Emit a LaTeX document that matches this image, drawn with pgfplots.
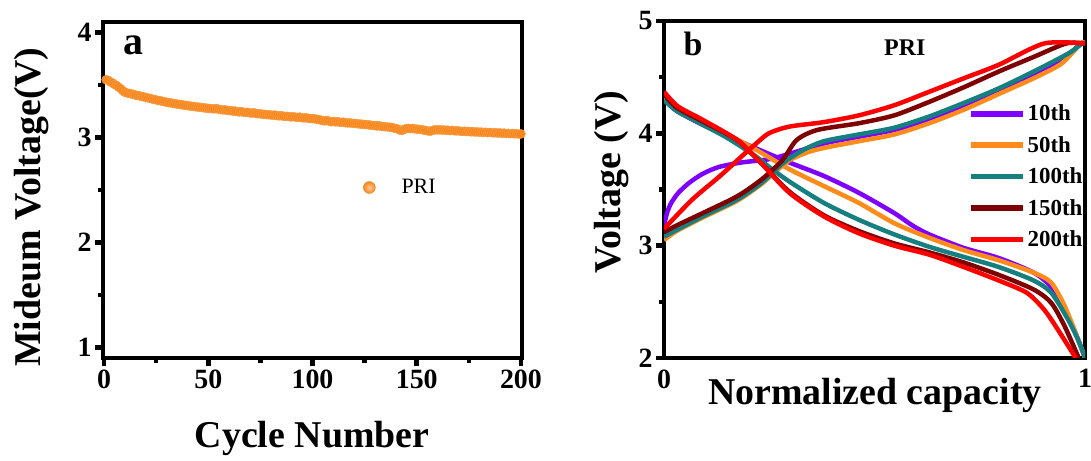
\documentclass[border=0pt]{standalone}
\usepackage{fontspec}
\setmainfont{Liberation Serif}
\usepackage{pgfplots}
\pgfplotsset{compat=1.18}

\definecolor{priorange}{HTML}{F7871C}
\definecolor{c10}{HTML}{8000FF}
\definecolor{c50}{HTML}{FF8C1A}
\definecolor{c100}{HTML}{168080}
\definecolor{c150}{HTML}{7F0000}
\definecolor{c200}{HTML}{FF0000}

\newcommand{\tickfont}{\fontsize{28}{30}\selectfont\bfseries}

\pgfplotsset{
  panel/.style={
    scale only axis,
    axis line style={line width=4.5bp},
    tick align=outside, tick pos=left,
    major tick length=8bp, minor tick length=5bp,
    tick style={line width=4.5bp, black},
    xticklabel={\tickfont\pgfmathprintnumber[assume math mode=true]{\tick}},
    yticklabel={\tickfont\pgfmathprintnumber[assume math mode=true]{\tick}},
    label style={font=\fontsize{38}{42}\selectfont\bfseries},
  },
  cyc/.style={line width=4.5bp, smooth, tension=0.45},
}

\begin{document}
\begin{tikzpicture}
\path[use as bounding box] (0bp,0bp) rectangle (1091bp,461bp);

% ---------- (a) mid voltage vs cycle ----------
\begin{axis}[panel,
  at={(103bp,103bp)}, anchor=south west,
  width=419bp, height=336bp,
  xmin=-0.5, xmax=200.5, ymin=0.9, ymax=4.1,
  xtick={0,50,...,200}, ytick={1,2,3,4},
  minor x tick num=1, minor y tick num=1,
  xlabel={Cycle Number}, ylabel={Mideum Voltage(V)},
  xlabel style={at={(axis description cs:0.499,-0.265)}, anchor=base},
  ylabel style={at={(axis description cs:-0.150,0.449)}, anchor=base},
  legend style={draw=none, fill=none, at={(axis cs:124.2,2.524)}, anchor=west,
    font=\fontsize{22}{24}\selectfont, inner sep=0pt},
  legend image code/.code={\shade[inner color=priorange!45!white, outer color=priorange] (0bp,0bp) circle (6bp);},
]
\addplot[only marks, mark=*, mark size=4.5bp, color=priorange, mark options={fill=priorange, draw=priorange!80!white}] coordinates {
(1,3.550) (2,3.545) (3,3.530) (4,3.520) (5,3.505) (6,3.495) (7,3.480) (8,3.465) (9,3.445) (10,3.430)
(11,3.425) (12,3.420) (13,3.415) (14,3.412) (15,3.405) (16,3.400) (17,3.398) (18,3.390) (19,3.388) (20,3.380)
(21,3.378) (22,3.372) (23,3.368) (24,3.362) (25,3.358) (26,3.352) (27,3.350) (28,3.345) (29,3.340) (30,3.336)
(31,3.332) (32,3.330) (33,3.325) (34,3.322) (35,3.318) (36,3.316) (37,3.312) (38,3.310) (39,3.306) (40,3.304)
(41,3.300) (42,3.298) (43,3.296) (44,3.292) (45,3.290) (46,3.288) (47,3.285) (48,3.282) (49,3.280) (50,3.278)
(51,3.276) (52,3.274) (53,3.272) (54,3.276) (55,3.268) (56,3.266) (57,3.262) (58,3.264) (59,3.258) (60,3.255)
(61,3.256) (62,3.250) (63,3.252) (64,3.246) (65,3.244) (66,3.246) (67,3.240) (68,3.238) (69,3.240) (70,3.234)
(71,3.232) (72,3.236) (73,3.228) (74,3.226) (75,3.225) (76,3.222) (77,3.220) (78,3.218) (79,3.216) (80,3.215)
(81,3.212) (82,3.214) (83,3.208) (84,3.206) (85,3.208) (86,3.203) (87,3.200) (88,3.202) (89,3.198) (90,3.196)
(91,3.198) (92,3.193) (93,3.192) (94,3.194) (95,3.188) (96,3.186) (97,3.188) (98,3.183) (99,3.180) (100,3.180)
(101,3.178) (102,3.174) (103,3.170) (104,3.166) (105,3.160) (106,3.158) (107,3.162) (108,3.155) (109,3.150) (110,3.152)
(111,3.148) (112,3.150) (113,3.146) (114,3.144) (115,3.146) (116,3.140) (117,3.138) (118,3.140) (119,3.135) (120,3.134)
(121,3.132) (122,3.130) (123,3.128) (124,3.126) (125,3.124) (126,3.122) (127,3.120) (128,3.118) (129,3.115) (130,3.112)
(131,3.110) (132,3.112) (133,3.106) (134,3.104) (135,3.102) (136,3.100) (137,3.098) (138,3.096) (139,3.090) (140,3.086)
(141,3.080) (142,3.070) (143,3.068) (144,3.078) (145,3.085) (146,3.088) (147,3.084) (148,3.086) (149,3.082) (150,3.080)
(151,3.078) (152,3.076) (153,3.072) (154,3.068) (155,3.064) (156,3.060) (157,3.062) (158,3.070) (159,3.074) (160,3.072)
(161,3.074) (162,3.070) (163,3.072) (164,3.068) (165,3.070) (166,3.066) (167,3.068) (168,3.064) (169,3.062) (170,3.064)
(171,3.060) (172,3.058) (173,3.060) (174,3.056) (175,3.058) (176,3.054) (177,3.056) (178,3.052) (179,3.054) (180,3.050)
(181,3.052) (182,3.048) (183,3.050) (184,3.046) (185,3.048) (186,3.046) (187,3.044) (188,3.046) (189,3.042) (190,3.044)
(191,3.040) (192,3.042) (193,3.038) (194,3.040) (195,3.036) (196,3.038) (197,3.034) (198,3.036) (199,3.032) (200,3.034)
};
\addlegendentry{\hspace{24bp}PRI}
\node[anchor=base west, font=\fontsize{40}{42}\selectfont\bfseries] at (axis description cs:0.0406,0.902) {a};
\end{axis}

% ---------- (b) voltage profiles ----------
\begin{axis}[panel,
  at={(664bp,103bp)}, anchor=south west,
  width=421bp, height=337bp,
  xmin=0, xmax=1, ymin=2, ymax=5,
  xtick={0,1}, ytick={2,3,4,5},
  xtick align=inside,
  xticklabel style={yshift=-8bp},
  minor y tick num=1,
  xlabel={Normalized capacity}, ylabel={Voltage (V)},
  xlabel style={at={(axis description cs:0.501,-0.139)}, anchor=base},
  ylabel style={at={(axis description cs:-0.1045,0.522)}, anchor=base},
  legend style={draw=none, fill=none, at={(rel axis cs:0.722,0.757)}, anchor=north west,
    font=\fontsize{23}{25}\selectfont\bfseries, inner sep=0pt, row sep=10bp,
    /tikz/every even column/.append style={column sep=0pt}},
  legend image code/.code={\draw[#1, line width=5.5bp] (0bp,0bp) -- (52bp,0bp);},
  legend cell align=left,
]
% 10th
\addplot[cyc, c10] coordinates {(0,3.18) (0.008,3.30) (0.017,3.38) (0.034,3.47) (0.06,3.56) (0.092,3.64) (0.13,3.70) (0.183,3.74) (0.25,3.77) (0.30,3.82) (0.38,3.91) (0.463,3.97) (0.547,4.03) (0.63,4.12) (0.712,4.24) (0.795,4.38) (0.878,4.52) (0.95,4.66) (0.99,4.8) (1.0,4.8)};
\addlegendentry{10th}
\addplot[cyc, c10, forget plot] coordinates {(0,4.30) (0.03,4.20) (0.09,4.08) (0.15,3.98) (0.216,3.87) (0.298,3.74) (0.38,3.62) (0.463,3.47) (0.547,3.29) (0.59,3.18) (0.63,3.10) (0.712,2.98) (0.795,2.89) (0.878,2.76) (0.92,2.63) (0.96,2.37) (0.985,2.15) (1.0,2.0)};
% 50th
\addplot[cyc, c50] coordinates {(0,3.05) (0.03,3.13) (0.092,3.25) (0.174,3.40) (0.232,3.55) (0.265,3.66) (0.298,3.76) (0.34,3.83) (0.38,3.87) (0.463,3.93) (0.547,3.99) (0.63,4.09) (0.712,4.21) (0.795,4.35) (0.878,4.49) (0.944,4.62) (0.99,4.8) (1.0,4.8)};
\addlegendentry{50th}
\addplot[cyc, c50, forget plot] coordinates {(0,4.32) (0.03,4.21) (0.09,4.09) (0.15,3.99) (0.216,3.86) (0.298,3.68) (0.38,3.53) (0.463,3.38) (0.547,3.20) (0.63,3.07) (0.712,2.96) (0.795,2.87) (0.878,2.76) (0.92,2.67) (0.952,2.46) (0.98,2.2) (1.0,2.0)};
% 100th
\addplot[cyc, c100] coordinates {(0,3.08) (0.03,3.14) (0.092,3.26) (0.174,3.41) (0.232,3.56) (0.281,3.73) (0.33,3.85) (0.38,3.93) (0.463,3.99) (0.547,4.05) (0.63,4.15) (0.712,4.27) (0.795,4.40) (0.878,4.55) (0.96,4.71) (0.993,4.8) (1.0,4.8)};
\addlegendentry{100th}
\addplot[cyc, c100, forget plot] coordinates {(0,4.30) (0.03,4.20) (0.09,4.08) (0.15,3.96) (0.216,3.80) (0.25,3.70) (0.298,3.57) (0.38,3.38) (0.463,3.23) (0.547,3.10) (0.63,2.99) (0.712,2.90) (0.795,2.81) (0.878,2.69) (0.92,2.58) (0.96,2.34) (0.985,2.15) (1.0,2.0)};
% 150th
\addplot[cyc, c150] coordinates {(0,3.12) (0.03,3.18) (0.092,3.29) (0.174,3.44) (0.232,3.59) (0.281,3.76) (0.315,3.94) (0.364,4.03) (0.463,4.09) (0.547,4.16) (0.63,4.28) (0.712,4.41) (0.795,4.55) (0.878,4.68) (0.955,4.8) (1.0,4.8)};
\addlegendentry{150th}
\addplot[cyc, c150, forget plot] coordinates {(0,4.35) (0.03,4.23) (0.09,4.11) (0.174,3.94) (0.232,3.73) (0.298,3.48) (0.38,3.27) (0.463,3.13) (0.547,3.02) (0.63,2.94) (0.712,2.85) (0.795,2.74) (0.878,2.61) (0.92,2.49) (0.952,2.28) (0.985,2.0)};
% 200th
\addplot[cyc, c200] coordinates {(0,3.15) (0.067,3.41) (0.133,3.62) (0.183,3.79) (0.216,3.90) (0.249,4.00) (0.298,4.06) (0.38,4.10) (0.463,4.16) (0.547,4.25) (0.63,4.37) (0.712,4.49) (0.795,4.61) (0.903,4.8) (1.0,4.8)};
\addlegendentry{200th}
\addplot[cyc, c200, forget plot] coordinates {(0,4.37) (0.033,4.24) (0.092,4.12) (0.174,3.94) (0.232,3.73) (0.298,3.47) (0.38,3.26) (0.463,3.11) (0.547,3.00) (0.63,2.92) (0.712,2.81) (0.795,2.69) (0.862,2.58) (0.903,2.43) (0.936,2.25) (0.978,2.0)};
\node[anchor=base west, font=\fontsize{34}{36}\selectfont\bfseries] at (axis description cs:0.038,0.899) {b};
\node[anchor=base, font=\fontsize{24}{26}\selectfont\bfseries] at (axis description cs:0.572,0.899) {PRI};
\end{axis}
\end{tikzpicture}
\end{document}
